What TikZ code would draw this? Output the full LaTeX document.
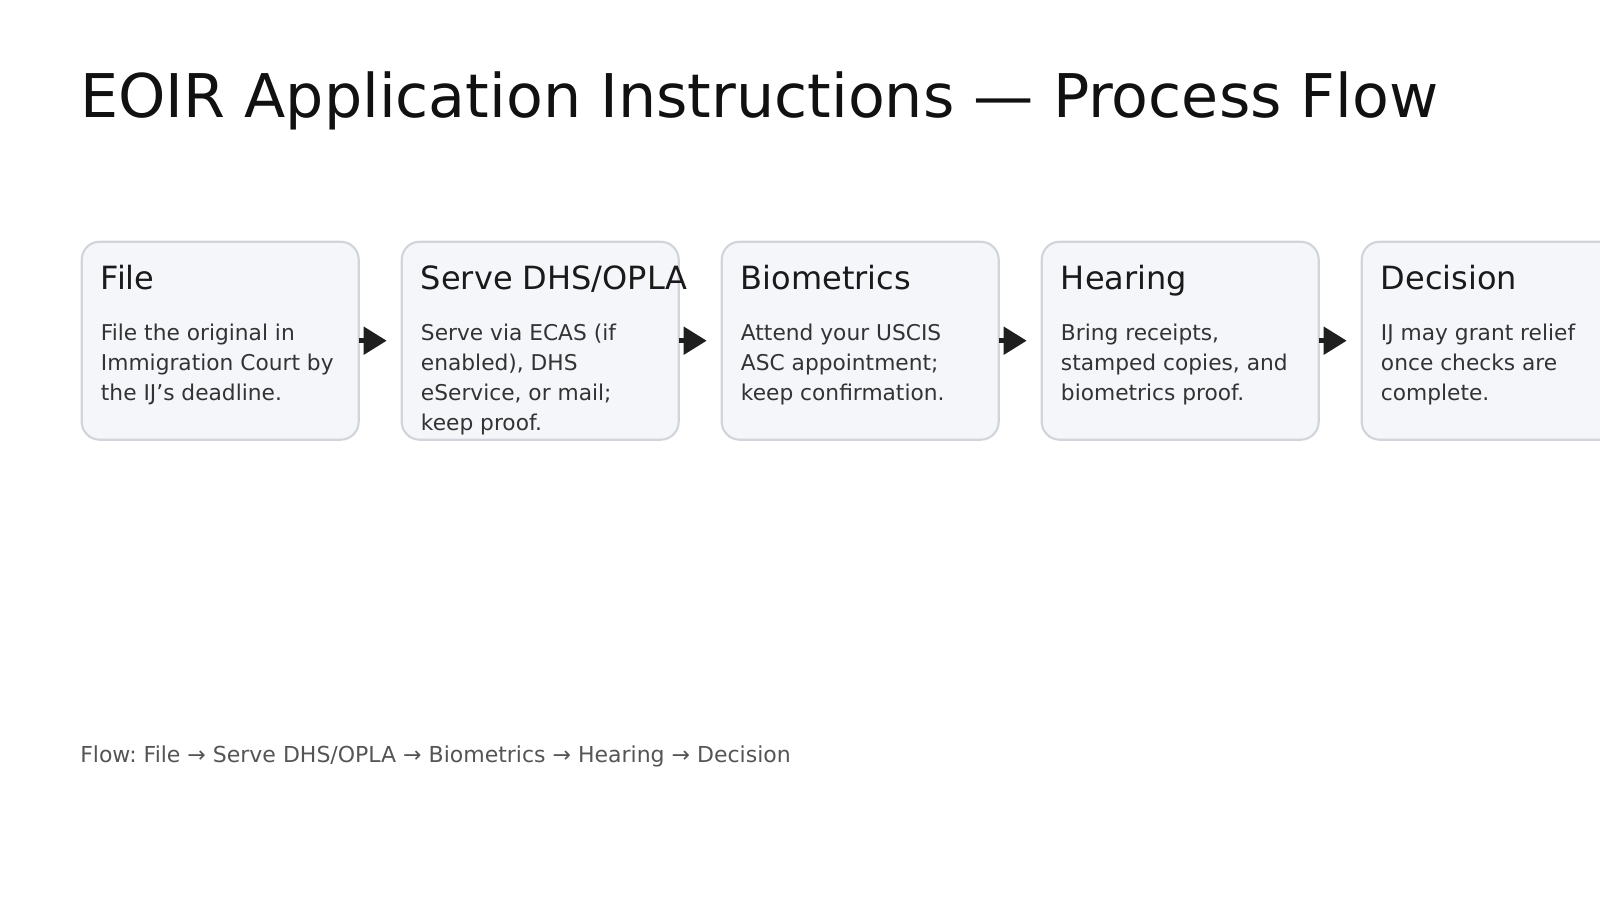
\documentclass[tikz,border=0pt]{standalone}
\usepackage{fontspec}
\setmainfont{DejaVu Sans}
\frenchspacing
\usetikzlibrary{positioning, arrows.meta}
\definecolor{boxfill}{HTML}{F4F6FA}
\definecolor{boxline}{HTML}{D1D5DB}
\definecolor{titleink}{HTML}{111111}
\definecolor{headink}{HTML}{1A1A1A}
\definecolor{bodyink}{HTML}{333333}
\definecolor{footink}{HTML}{555555}
\definecolor{arrowink}{HTML}{1F1F1F}
\tikzstyle{stepbox} = [rectangle, rounded corners=13.5pt, minimum width=207.75pt, minimum height=148.5pt, draw=boxline, fill=boxfill, line width=1.6pt, inner sep=0pt, outer sep=0pt]
\tikzstyle{heading} = [anchor=base west, inner sep=0pt, text=headink, font=\fontsize{24pt}{28pt}\selectfont]
\tikzstyle{body} = [anchor=north west, inner sep=0pt, align=left, text=bodyink, font=\fontsize{16.3pt}{22.5pt}\selectfont]
\tikzstyle{arrow} = [line width=3.75pt, draw=arrowink, -{Triangle[length=17.25pt, width=20.25pt]}, shorten >=11.25pt]

\begin{document}
\begin{tikzpicture}[x=0.75pt, y=-0.75pt, node distance=32.25pt]
                \useasboundingbox[fill=white] (0,0) rectangle (1600,900);

                % Title
                \node (title) [anchor=base west, inner sep=0pt, text=titleink, font=\fontsize{45.2pt}{54pt}\selectfont] at (80,117) {EOIR Application Instructions — Process Flow};

                % Boxes
                \node (file) [stepbox, anchor=north west] at (81.7,241.7) {};
                \node (serve) [stepbox, right=of file] {};
                \node (bio) [stepbox, right=of serve] {};
                \node (hearing) [stepbox, right=of bio] {};
                \node (decision) [stepbox, right=of hearing] {};

                % Texts (body: first baseline 21px below the strut top)
                \node (fileH) [heading] at ([shift={(19,48)}]file.north west) {File};
                \node (fileB) [body] at ([shift={(19,78)}]file.north west) {\strut File the original in\\Immigration Court by\\the IJ’s deadline.};
                \node (serveH) [heading] at ([shift={(19,48)}]serve.north west) {Serve DHS/OPLA};
                \node (serveB) [body] at ([shift={(19,78)}]serve.north west) {\strut Serve via ECAS (if\\enabled), DHS\\eService, or mail;\\keep proof.};
                \node (bioH) [heading] at ([shift={(19,48)}]bio.north west) {Biometrics};
                \node (bioB) [body] at ([shift={(19,78)}]bio.north west) {\strut Attend your USCIS\\ASC appointment;\\keep confirmation.};
                \node (hearingH) [heading] at ([shift={(19,48)}]hearing.north west) {Hearing};
                \node (hearingB) [body] at ([shift={(19,78)}]hearing.north west) {\strut Bring receipts,\\stamped copies, and\\biometrics proof.};
                \node (decisionH) [heading] at ([shift={(19,48)}]decision.north west) {Decision};
                \node (decisionB) [body] at ([shift={(19,78)}]decision.north west) {\strut IJ may grant relief\\once checks are\\complete.};

                % Arrows
                \draw [arrow] (file) -- (serve);
                \draw [arrow] (serve) -- (bio);
                \draw [arrow] (bio) -- (hearing);
                \draw [arrow] (hearing) -- (decision);

                % Footer
                \node (flow) [anchor=base west, inner sep=0pt, text=footink, font=\fontsize{16.5pt}{20pt}\selectfont] at (80,762) {Flow: File → Serve DHS/OPLA → Biometrics → Hearing → Decision};
            \end{tikzpicture}
\end{document}
